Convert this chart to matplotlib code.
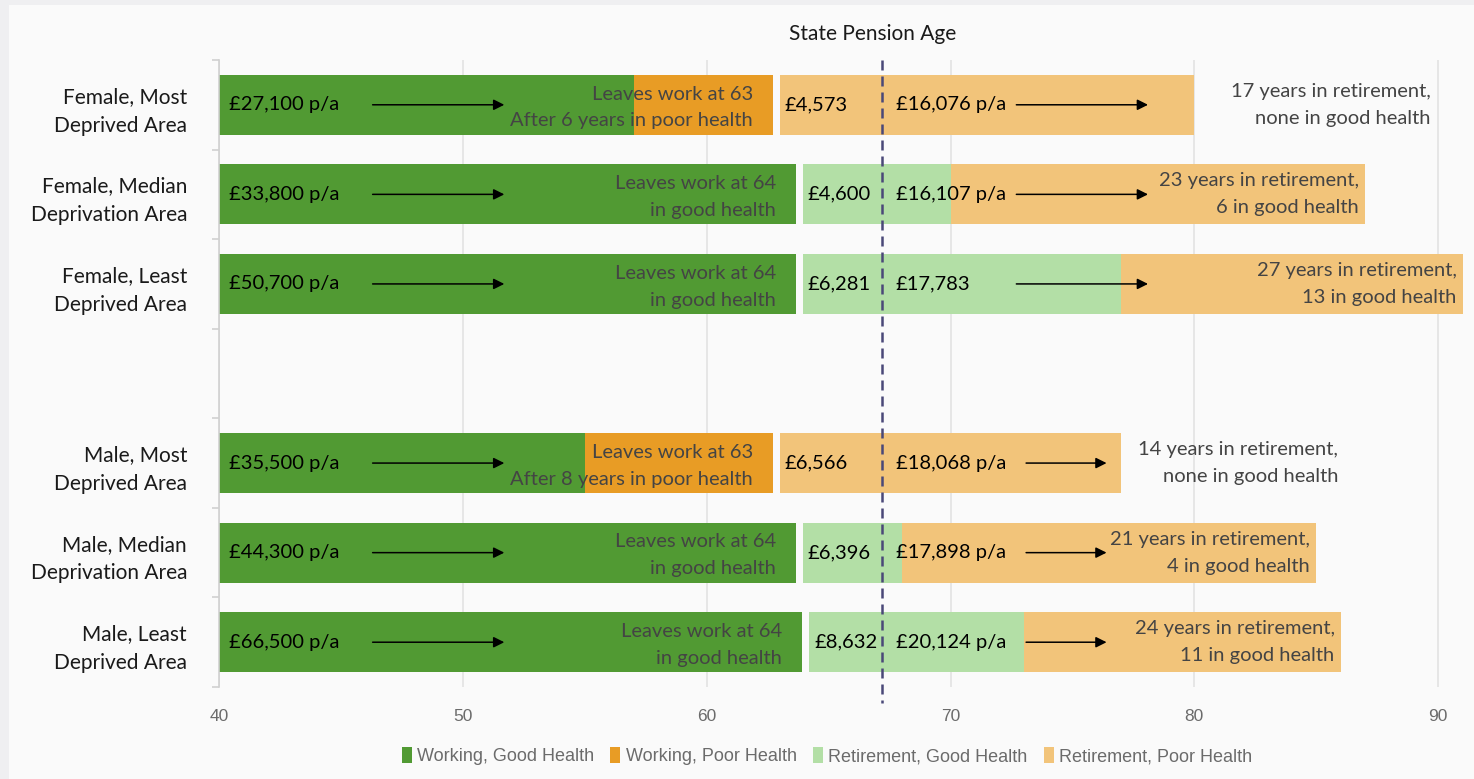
import numpy as np
import matplotlib
matplotlib.use("Agg")
import matplotlib.pyplot as plt
from matplotlib.patches import Patch, Rectangle

# ---- data -------------------------------------------------------------
groups = [
    "Female, Most\nDeprived Area",
    "Female, Median\nDeprivation Area",
    "Female, Least\nDeprived Area",
    "",
    "Male, Most\nDeprived Area",
    "Male, Median\nDeprivation Area",
    "Male, Least\nDeprived Area",
]
nan = np.nan
work_good_end = [57.0, 63.65, 63.65, nan, 55.0, 63.65, 63.9]
work_poor_end = [62.7, 63.65, 63.65, nan, 62.7, 63.65, 63.9]
retire_start = [63.0, 63.95, 63.95, nan, 63.0, 63.95, 64.2]
retire_good_end = [63.0, 70.0, 77.0, nan, 63.0, 68.0, 73.0]
retire_end = [80.0, 87.0, 91.0, nan, 77.0, 85.0, 86.0]
state_pension_age = 67.2

salary = ["£27,100 p/a", "£33,800 p/a", "£50,700 p/a", "",
          "£35,500 p/a", "£44,300 p/a", "£66,500 p/a"]
work_notes = [
    ("Leaves work at 63", "After 6 years in poor health"),
    ("Leaves work at 64", "in good health"),
    ("Leaves work at 64", "in good health"),
    None,
    ("Leaves work at 63", "After 8 years in poor health"),
    ("Leaves work at 64", "in good health"),
    ("Leaves work at 64", "in good health"),
]
lump_sum = ["£4,573", "£4,600", "£6,281", "", "£6,566", "£6,396", "£8,632"]
pension = ["£16,076 p/a", "£16,107 p/a", "£17,783", "",
           "£18,068 p/a", "£17,898 p/a", "£20,124 p/a"]
retire_notes = [
    ("17 years in retirement,", "none in good health"),
    ("23 years in retirement,", "6 in good health"),
    ("27 years in retirement,", "13 in good health"),
    None,
    ("14 years in retirement,", "none in good health"),
    ("21 years in retirement,", "4 in good health"),
    ("24 years in retirement,", "11 in good health"),
]
series = ["Working, Good Health", "Working, Poor Health",
          "Retirement, Good Health", "Retirement, Poor Health"]

# ---- style ------------------------------------------------------------
C_WG = "#519a33"
C_WP = "#e89c25"
C_RG = "#b3dfa6"
C_RP = "#f2c47a"
BG = "#fafafa"
NOTE = "#444444"
FONT = ["Lato", "DejaVu Sans"]
TICKFONT = ["Liberation Sans", "DejaVu Sans"]
FS = 14.5

fig = plt.figure(figsize=(14.74, 7.79), dpi=100, facecolor="#efeff1")
fig.patches.append(Rectangle((9 / 1474, 0), 1, 1 - 5 / 779,
                             transform=fig.transFigure, facecolor=BG,
                             edgecolor="none", zorder=0))
ax = fig.add_axes([219 / 1474, 1 - 687 / 779, 1246 / 1474, 627 / 779])
ax.set_zorder(2)
ax.set_facecolor(BG)

y = np.arange(len(groups))
h = 0.67
wg = np.array(work_good_end)
wp = np.array(work_poor_end)
rs = np.array(retire_start)
rg = np.array(retire_good_end)
re_ = np.array(retire_end)

ax.barh(y, wg - 40, left=40, height=h, color=C_WG, zorder=2)
ax.barh(y, wp - wg, left=wg, height=h, color=C_WP, zorder=2)
ax.barh(y, rg - rs, left=rs, height=h, color=C_RG, zorder=2)
ax.barh(y, re_ - rg, left=rg, height=h, color=C_RP, zorder=2)

ax.set_xlim(40, 91.1)
ax.set_ylim(len(groups) - 0.5, -0.5)
ax.set_xticks(np.arange(40, 91, 10))
ax.xaxis.grid(True, color="#e2e2e2", lw=1.2, zorder=0)
ax.set_axisbelow(True)
ax.tick_params(axis="x", length=0, pad=16, labelcolor="#6b6b6b", labelsize=12.5)
for lab in ax.get_xticklabels():
    lab.set_family(TICKFONT)

ax.set_yticks(y)
ax.set_yticklabels(groups, family=FONT, fontsize=15, color="#1a1a1a",
                   linespacing=1.55)
ax.tick_params(axis="y", which="major", length=0, pad=23)
ax.set_yticks(np.arange(-0.5, len(groups)), minor=True)
ax.tick_params(axis="y", which="minor", length=5, color="#d0d0d0", width=1.2)
for s in ["top", "right", "bottom"]:
    ax.spines[s].set_visible(False)
ax.spines["left"].set_color("#d0d0d0")
ax.spines["left"].set_linewidth(1.2)

# state pension age marker
ax.plot([state_pension_age, state_pension_age], [-0.5, len(groups) - 0.5 + 0.18],
        color="#4a4878", lw=1.8, ls=(0, (4, 2.4)), zorder=5, clip_on=False)
fig.text(873 / 1474, 1 - 34 / 779, "State Pension Age", ha="center",
         va="center", family=FONT, fontsize=15, color="#1a1a1a")

arrow_kw = dict(arrowstyle="-|>", color="black", lw=1.1, mutation_scale=16,
                shrinkA=0, shrinkB=0)
d = 0.15
for i in range(len(groups)):
    if work_notes[i] is None:
        continue
    yi = y[i]
    ax.text(40.4, yi, salary[i], va="center", ha="left", family=FONT,
            fontsize=FS, color="black", zorder=4)
    ax.annotate("", xy=(51.7, yi), xytext=(46.3, yi), arrowprops=arrow_kw,
                zorder=4)
    nx = rs[i] - 1.1
    ax.text(nx, yi - d + 0.03, work_notes[i][0], va="center", ha="right",
            family=FONT, fontsize=FS, color=NOTE, zorder=4)
    ax.text(nx, yi + d + 0.03, work_notes[i][1], va="center", ha="right",
            family=FONT, fontsize=FS, color=NOTE, zorder=4)
    ax.text(rs[i] + 0.2, yi, lump_sum[i], va="center", ha="left",
            family=FONT, fontsize=FS, color="black", zorder=4)
    ax.text(67.75, yi, pension[i], va="center", ha="left",
            family=FONT, fontsize=FS, color="black", zorder=4)
    a0, a1 = (72.7, 78.1) if i < 3 else (73.1, 76.4)
    ax.annotate("", xy=(a1, yi), xytext=(a0, yi), arrowprops=arrow_kw,
                zorder=4)
    if rg[i] > rs[i]:
        rx = re_[i] - 0.25
    else:
        rx = re_[i] + (9.7 if i < 3 else 8.9)
    ax.text(rx, yi - d, retire_notes[i][0], va="center", ha="right",
            family=FONT, fontsize=FS, color=NOTE, zorder=4)
    ax.text(rx, yi + d, retire_notes[i][1], va="center", ha="right",
            family=FONT, fontsize=FS, color=NOTE, zorder=4)

handles = [Patch(facecolor=c, edgecolor="none") for c in (C_WG, C_WP, C_RG, C_RP)]
leg = fig.legend(handles, series, loc="center", ncol=4,
                 bbox_to_anchor=(827 / 1474, 1 - 756 / 779), frameon=False,
                 handlelength=0.55, handleheight=1.0, handletextpad=0.3,
                 columnspacing=0.9, prop={"family": TICKFONT, "size": 13})
for t in leg.get_texts():
    t.set_color("#6b6b6b")

fig.savefig("out.png", dpi=100, facecolor=fig.get_facecolor())
